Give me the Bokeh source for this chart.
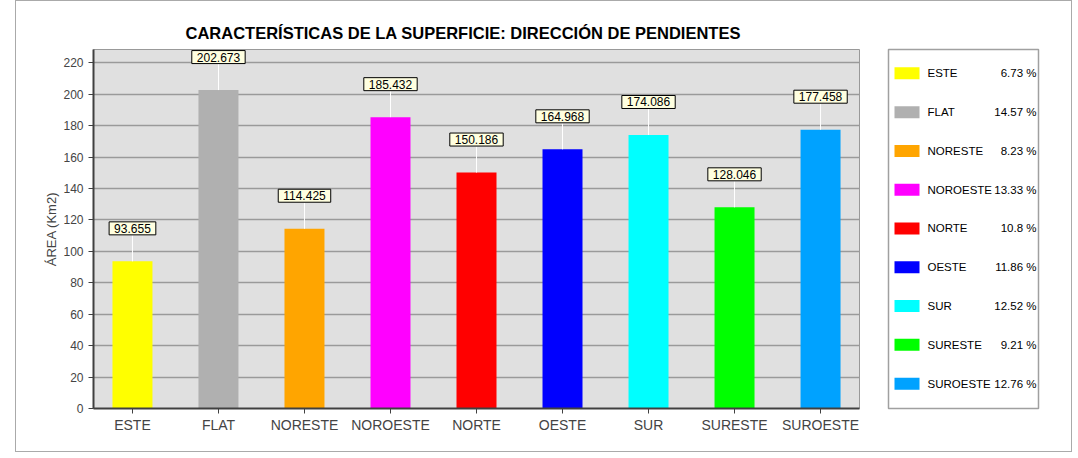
from bokeh.plotting import figure
from bokeh.layouts import row
from bokeh.models import Range1d, FixedTicker, ColumnDataSource, Title
from bokeh.core.properties import value
from bokeh.embed import file_html
from bokeh.resources import INLINE

categories = ["ESTE", "FLAT", "NORESTE", "NOROESTE", "NORTE", "OESTE", "SUR", "SURESTE", "SUROESTE"]
areas = [93.655, 202.673, 114.425, 185.432, 150.186, 164.968, 174.086, 128.046, 177.458]
percents = [6.73, 14.57, 8.23, 13.33, 10.8, 11.86, 12.52, 9.21, 12.76]
colors = ["#ffff00", "#b0b0b0", "#ffa500", "#ff00ff", "#ff0000", "#0000ff", "#00ffff", "#00ff00", "#00a2ff"]
y_ticks = [0, 20, 40, 60, 80, 100, 120, 140, 160, 180, 200, 220]

FONT = "Liberation Sans"
idx = list(range(len(categories)))
LEADER = 16.5  # data units for white leader line

src = ColumnDataSource(dict(
    x=idx, top=areas, color=colors,
    lead=[a + LEADER for a in areas],
    txt=[f"{a:.3f}" for a in areas],
))

H = 450
p = figure(width=856, height=H, output_backend="svg", toolbar_location=None,
           x_range=Range1d(-0.453, 8.453), y_range=Range1d(0, 228.5),
           min_border_left=77, min_border_right=13, min_border_top=48, min_border_bottom=41)
p.background_fill_color = "#e0e0e0"
p.border_fill_color = "white"
p.outline_line_color = "#999999"
p.outline_line_width = 1

p.title = Title(text="CARACTERÍSTICAS DE LA SUPERFICIE: DIRECCIÓN DE PENDIENTES",
                align="left", offset=92, text_font=FONT, text_font_size="16.5px",
                text_font_style="bold", text_color="black", standoff=15)

p.vbar(x="x", top="top", width=0.465, color="color", line_color=None, source=src)
p.segment(x0="x", y0="top", x1="x", y1="lead", line_color="white", line_width=1, source=src)

p.text(x="x", y="top", text="txt", source=src, y_offset=-33,
       text_align="center", text_baseline="middle",
       text_font=value(FONT), text_font_size="12px", text_color="black",
       background_fill_color="#ffffe0", border_line_color="black",
       border_line_width=1, padding=(5, 2))

p.xgrid.visible = False
p.ygrid.grid_line_color = "#9a9a9a"
p.ygrid.grid_line_width = 1.5
p.ygrid.ticker = FixedTicker(ticks=y_ticks)

p.yaxis.ticker = FixedTicker(ticks=y_ticks)
p.yaxis.axis_label = "ÁREA (Km2)"
p.yaxis.axis_label_text_font = FONT
p.yaxis.axis_label_text_font_size = "13px"
p.yaxis.axis_label_text_font_style = "normal"
p.yaxis.axis_label_standoff = 1
p.yaxis.major_label_text_font = FONT
p.yaxis.major_label_text_font_size = "12px"
p.yaxis.major_tick_out = 5
p.yaxis.major_tick_in = 0
p.yaxis.minor_tick_line_color = None
p.yaxis.axis_line_color = "#404040"
p.yaxis.axis_line_width = 2
p.yaxis.major_tick_line_color = "#404040"

p.xaxis.ticker = FixedTicker(ticks=idx)
p.xaxis.major_label_overrides = {i: c for i, c in zip(idx, categories)}
p.xaxis.major_label_text_font = FONT
p.xaxis.major_label_text_font_size = "14px"
p.xaxis.major_label_standoff = 3
p.xaxis.major_tick_out = 5
p.xaxis.major_tick_in = 0
p.xaxis.minor_tick_line_color = None
p.xaxis.axis_line_color = "#404040"
p.xaxis.axis_line_width = 2
p.xaxis.major_tick_line_color = "#404040"

# Legend panel
n = len(categories)
lg = figure(width=199, height=H, output_backend="svg", toolbar_location=None,
            x_range=Range1d(0, 150), y_range=Range1d(8.641, -0.615),
            min_border_left=16, min_border_right=33, min_border_top=46, min_border_bottom=43)
lg.axis.visible = False
lg.grid.visible = False
lg.background_fill_color = "white"
lg.outline_line_color = "#a0a0a0"
lg.outline_line_width = 1.5
lsrc = ColumnDataSource(dict(
    y=idx, color=colors, name=categories,
    pct=[f"{v} %" for v in percents],
    sx=[18.5] * n, nx=[39] * n, px=[148] * n,
))
lg.rect(x="sx", y="y", width=25, height=12, width_units="screen", height_units="screen",
        color="color", line_color=None, source=lsrc)
lg.text(x="nx", y="y", text="name", text_font=value(FONT), text_font_size="11.5px",
        text_baseline="middle", text_align="left", text_color="black", source=lsrc)
lg.text(x="px", y="y", text="pct", text_font=value(FONT), text_font_size="11.5px",
        text_baseline="middle", text_align="right", text_color="black", source=lsrc)

layout = row(p, lg, styles={"border": "1px solid #aaaaaa", "margin-left": "15px"})

open("out.html", "w").write(file_html(layout, INLINE))
